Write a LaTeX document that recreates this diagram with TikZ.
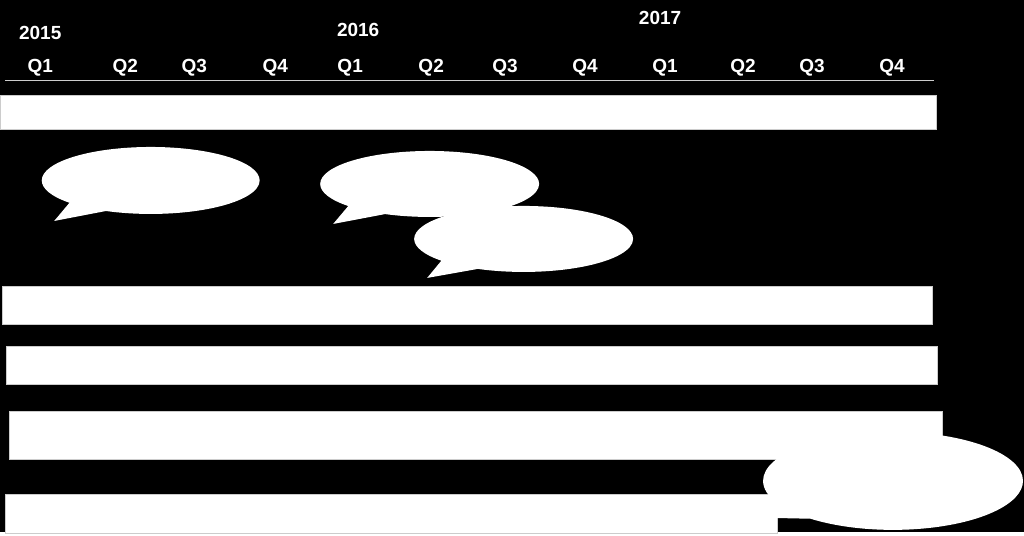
\documentclass[tikz,border=0pt]{standalone}
\usepackage{fontspec}
\setmainfont{Liberation Sans}
\usetikzlibrary{shapes.callouts}

\begin{document}
\begin{tikzpicture}[x=1pt, y=-1pt]
                \tikzstyle{lbl} = [text=white, font=\bfseries\fontsize{19}{23}\selectfont, anchor=base, inner sep=0pt]
                \tikzstyle{bar} = [fill=white, draw=gray!40, line width=0.5pt]
                \tikzstyle{bubble} = [ellipse callout, fill=white, inner sep=0pt, callout pointer arc=24]
                \fill[black] (0,0) rectangle (1024,532);
                \node[lbl] (y2015) at (40,40) {2015};
                \node[lbl] (y2016) at (358,37) {2016};
                \node[lbl] (y2017) at (660,25) {2017};
                \foreach \x [count=\i] in {40,125,194,275,350,431,505,585,665,743,812,892} {
                    \pgfmathtruncatemacro{\q}{mod(\i-1,4)+1}
                    \node[lbl] (q\i) at (\x,73) {Q\q};
                }
                \coordinate (rulel) at (5,81);
                \coordinate (ruler) at (934,81);
                \draw[white!80!black, line width=1pt] (rulel) -- (ruler);
                \draw[bar] (0,95) rectangle (936,129);
                \draw[bar] (2,286) rectangle (932,324);
                \draw[bar] (6,346) rectangle (937,384);
                \draw[bar] (9,411) rectangle (942,459);
                \draw[bar] (5,494) rectangle (777,533);
                \node[bubble, minimum width=218pt, minimum height=67pt, callout absolute pointer={(54,221)}] (talka) at (150.5,180.5) {};
                \node[bubble, minimum width=219pt, minimum height=66pt, callout absolute pointer={(333,224)}] (talkb) at (429.5,184) {};
                \node[bubble, minimum width=219pt, minimum height=66pt, callout absolute pointer={(427,278)}] (talkc) at (523.5,239) {};
                \node[bubble, minimum width=260pt, minimum height=98pt, callout absolute pointer={(770,518)}] (talkd) at (893,481) {};
            \end{tikzpicture}
\end{document}
